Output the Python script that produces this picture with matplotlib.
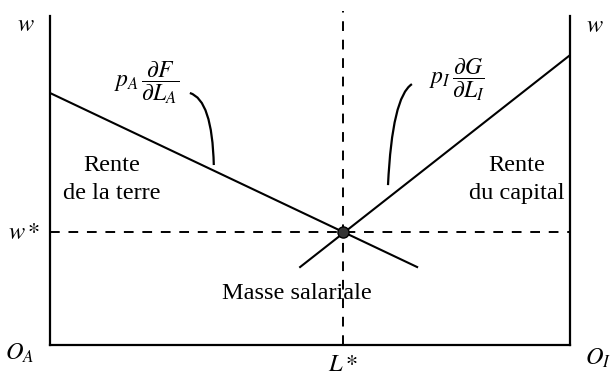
import numpy as np
import matplotlib
matplotlib.use('Agg')
import matplotlib.pyplot as plt
from matplotlib.path import Path
from matplotlib.patches import PathPatch

plt.rcParams['font.family'] = ['Liberation Serif', 'DejaVu Serif']
plt.rcParams['mathtext.fontset'] = 'stix'

# Equilibre (L*, w*) dans un repere 0..100 x 0..100
L_star = 56.3
w_star = 34.3

# Droite de la terre (decroissante) et droite du capital (croissante)
terre_L = [0.0, 70.6]
terre_w = [76.6, 23.7]
capital_L = [48.1, 100.0]
capital_w = [23.7, 88.1]

# Accolades reliant les formules aux droites (debut, controle, fin)
lien_terre = [(26.9, 76.6), (31.2, 74.5), (31.5, 54.7)]
lien_capital = [(69.6, 79.3), (65.8, 75.4), (65.0, 48.6)]

fig = plt.figure(figsize=(6.10, 3.76), dpi=100)
ax = fig.add_axes([50 / 610, 31 / 376, 520 / 610, 329 / 376])
ax.set_xlim(0, 100)
ax.set_ylim(0, 100)
ax.set_xticks([])
ax.set_yticks([])
ax.spines['top'].set_visible(False)
for s in ['left', 'right', 'bottom']:
    ax.spines[s].set_linewidth(1.6)

# Pointilles de l'equilibre
ax.plot([L_star, L_star], [0, 101.5], color='black', lw=1.4,
        dashes=(5, 4.5), clip_on=False)
ax.plot([0, 100], [w_star, w_star], color='black', lw=1.4, dashes=(5, 4.5))

# Droites
ax.plot(terre_L, terre_w, color='black', lw=1.5)
ax.plot(capital_L, capital_w, color='black', lw=1.5)
ax.plot([L_star], [w_star], 'o', ms=8, mfc='#333333', mec='black', mew=1, zorder=5)

for pts in [lien_terre, lien_capital]:
    path = Path(pts, [Path.MOVETO, Path.CURVE3, Path.CURVE3])
    ax.add_patch(PathPatch(path, fc='none', ec='black', lw=1.6))

fs = 17.5
ax.text(-4.6, 97.0, r'$w$', fontsize=fs, ha='center', va='center', clip_on=False)
ax.text(104.8, 96.7, r'$w$', fontsize=fs, ha='center', va='center', clip_on=False)
ax.text(-5.0, 34.0, r'$w*$', fontsize=fs, ha='center', va='center', clip_on=False)
ax.text(-5.8, -2.4, r'$O_A$', fontsize=fs, ha='center', va='center', clip_on=False)
ax.text(105.4, -4.0, r'$O_I$', fontsize=fs, ha='center', va='center', clip_on=False)
ax.text(L_star, -6.2, r'$L*$', fontsize=fs, ha='center', va='center', clip_on=False)

ax.text(11.9, 50.2, 'Rente\nde la terre', fontsize=fs, ha='center', va='center',
        linespacing=1.45)
ax.text(89.8, 50.2, 'Rente\ndu capital', fontsize=fs, ha='center', va='center',
        linespacing=1.45)
ax.text(47.5, 15.8, 'Masse salariale', fontsize=fs, ha='center', va='center')

ax.text(18.5, 79.8, r'$p_A\,\dfrac{\partial F}{\partial L_A}$', fontsize=17,
        ha='center', va='center')
ax.text(78.2, 80.5, r'$p_I\,\dfrac{\partial G}{\partial L_I}$', fontsize=17,
        ha='center', va='center')

fig.savefig('out.png', dpi=100)
